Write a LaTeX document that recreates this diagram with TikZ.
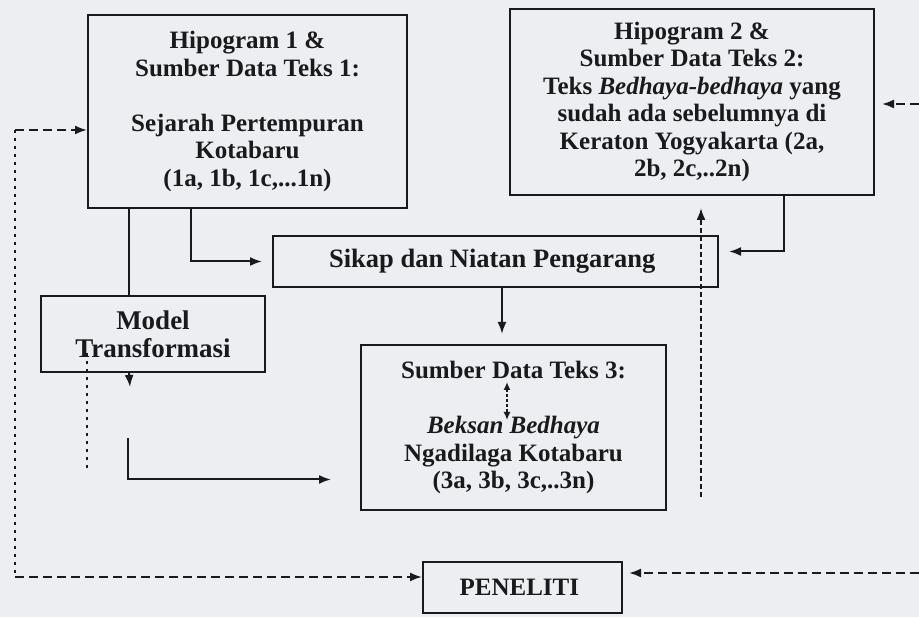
\documentclass[tikz,border=0pt]{standalone}
\usepackage{fontspec}
\setmainfont{Liberation Serif}
\usetikzlibrary{calc, arrows.meta}

\definecolor{paper}{RGB}{236,238,241}
\definecolor{ink}{RGB}{26,26,28}

\begin{document}
\begin{tikzpicture}[
        x=1pt, y=1pt,
        font=\bfseries\fontsize{25}{27.5}\selectfont,
        >={Latex[length=12pt,width=9pt]},
        box/.style={
            draw=ink,
            line width=2pt,
            align=center,
            text=ink,
            inner sep=0pt
        },
        link/.style={line width=2pt, draw=ink},
        arrow/.style={->, link, shorten >=10pt},
        dasharrow/.style={->, link, dash pattern=on 9pt off 5pt},
        dotline/.style={link, dash pattern=on 3pt off 5pt}
    ]

    \useasboundingbox (0,0) rectangle (919,617);
    \fill[paper] (0,0) rectangle (919,617);

    % Sources
    \node[box, minimum width=319pt, minimum height=193pt] (hipo1) at (247.5,505.5) {
        Hipogram 1 \&\\
        Sumber Data Teks 1:\\[27.5pt]
        Sejarah Pertempuran\\
        Kotabaru\\
        (1a, 1b, 1c,...1n)
    };

    \node[box, minimum width=364pt, minimum height=186pt] (hipo2) at (692,515) {
        Hipogram 2 \&\\
        Sumber Data Teks 2:\\
        Teks \textit{Bedhaya-bedhaya} yang\\
        sudah ada sebelumnya di\\
        Keraton Yogyakarta (2a,\\
        2b, 2c,..2n)
    };

    % Middle
    \node[box, minimum width=445pt, minimum height=51pt,
        font=\bfseries\fontsize{26.5}{29}\selectfont] (sikap) at (495.5,355.5) {
        Sikap dan Niatan Pengarang
    };

    \node[box, minimum width=224pt, minimum height=76pt,
        font=\bfseries\fontsize{27}{28}\selectfont] (model) at (153,283) {
        Model\\
        Transformasi
    };

    \node[box, minimum width=305pt, minimum height=165pt] (sumber3) at (513.5,189.5) {
        Sumber Data Teks 3:\\[27.5pt]
        \textit{Beksan Bedhaya}\\
        Ngadilaga Kotabaru\\
        (3a, 3b, 3c,..3n)
    };

    \node[box, minimum width=199pt, minimum height=51pt] (peneliti) at (522.5,29.5) {
        PENELITI
    };

    % Free ends
    \coordinate (mtip) at (130,230);
    \coordinate (lstart) at (128,179);
    \coordinate (dtop) at (87,264);
    \coordinate (dbot) at (87,149);
    \coordinate (ltop) at (15,487);
    \coordinate (lbot) at (15,40);
    \coordinate (rtop) at (919,513);
    \coordinate (rbot) at (919,44);
    \coordinate (vbot) at (701,120);
    \coordinate (btop) at (507,235);
    \coordinate (bbot) at (507,197);

    % Solid arrows
    \draw[link] ([xshift=42pt]hipo1.south west) -- ([xshift=42pt]hipo1.south west |- model.north);
    \draw[arrow] ([xshift=104pt]hipo1.south west) |- (sikap.west);
    \draw[arrow] ([xshift=275pt]hipo2.south west) |- ([yshift=10pt]sikap.east);
    \draw[arrow] ([xshift=6.5pt]sikap.south) -- ([xshift=6.5pt]sikap.south |- sumber3.north);
    \draw[arrow, shorten >=0pt] ([xshift=89pt]model.south west) -- (mtip);
    \draw[arrow, shorten >=29pt] (lstart) |- ([yshift=-52pt]sumber3.west);

    % Dashed arrows
    \draw[dotline] (dtop) -- (dbot);
    \draw[dasharrow] (ltop) -- (ltop -| hipo1.west);
    \draw[dotline] (ltop) -- (lbot);
    \draw[dasharrow] (lbot) -- (lbot -| peneliti.west);
    \draw[dasharrow, shorten >=7pt] (rtop) -- (rtop -| hipo2.east);
    \draw[dasharrow, shorten >=6pt] (rbot) -- (rbot -| peneliti.east);
    \draw[dasharrow, dash pattern=on 5pt off 3pt, shorten >=12pt] (vbot) -- (vbot |- hipo2.south);
    \draw[link, line width=1.6pt, dash pattern=on 3pt off 2pt,
        {Latex[length=8pt,width=7pt]}-{Latex[length=8pt,width=7pt]}] (btop) -- (bbot);

\end{tikzpicture}
\end{document}
